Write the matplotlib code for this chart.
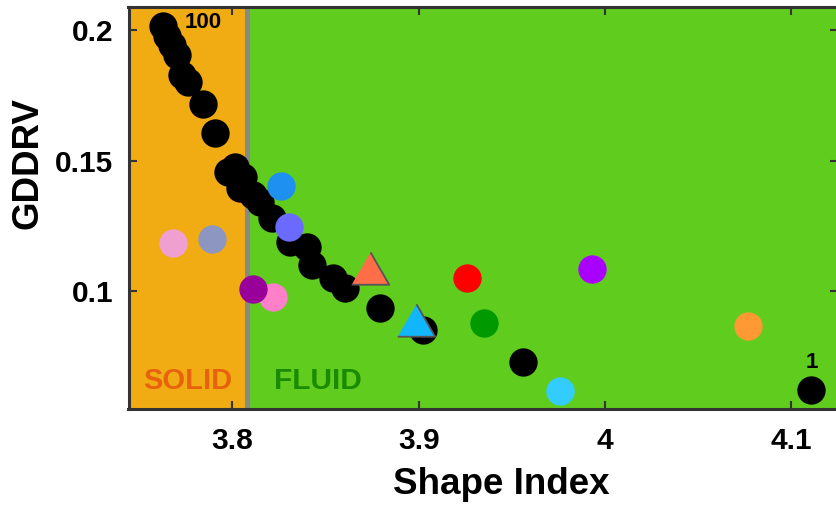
import matplotlib
matplotlib.use("Agg")
import matplotlib.pyplot as plt
from matplotlib.markers import MarkerStyle

plt.rcParams['font.family'] = ['Liberation Sans', 'DejaVu Sans']
plt.rcParams['font.weight'] = 'bold'

# --- data ---
black_x = [3.7628, 3.7650, 3.7676, 3.7703, 3.7730, 3.7762, 3.7843, 3.7907,
           3.7977, 3.8014, 3.8057, 3.8041, 3.8111, 3.8149, 3.8213, 3.8310,
           3.8401, 3.8428, 3.8541, 3.8605, 3.8793, 3.9024, 3.9560, 4.1106]
black_y = [0.2015, 0.1977, 0.1943, 0.1904, 0.1828, 0.1801, 0.1716, 0.1605,
           0.1456, 0.1475, 0.1437, 0.1395, 0.1368, 0.1341, 0.1280, 0.1188,
           0.1169, 0.1100, 0.1050, 0.1011, 0.0935, 0.0851, 0.0728, 0.0621]

circle_x = [3.8261, 3.8301, 3.7683, 3.7889, 3.8215, 3.8110,
            3.9258, 3.9351, 3.9759, 3.9931, 4.0767]
circle_y = [0.1403, 0.1246, 0.1183, 0.1198, 0.0978, 0.1007,
            0.1049, 0.0876, 0.0618, 0.1083, 0.0867]
circle_colors = ['#1E90F0', '#6A6AFF', '#F0A0D0', '#8C96C0', '#FF80C8', '#990099',
                 '#FF0000', '#009900', '#33CCFF', '#AA00FF', '#FF9933']

tri_x = [3.8736, 3.8986]
tri_y = [0.1087, 0.0889]
tri_colors = ['#FF6E46', '#12B6FF']

boundary = 3.808
xmin, xmax = 3.7442, 4.125
ymin, ymax = 0.0548, 0.2087

# --- figure ---
fig = plt.figure(figsize=(8.36, 5.08), dpi=100)
ax = fig.add_axes([128.5 / 836, 99 / 508, (838 - 128.5) / 836, (409 - 7.3) / 508])

ax.axvspan(xmin, boundary, color='#F0AC12', zorder=0, lw=0)
ax.axvspan(boundary, xmax, color='#5FCC1E', zorder=0, lw=0)
ax.axvline(boundary, color='#888888', lw=3.6, zorder=1)

ax.plot(black_x, black_y, 'o', color='black', ms=20.4, mew=0, zorder=2)
for x, y, c in zip(circle_x, circle_y, circle_colors):
    ax.plot(x, y, 'o', color=c, ms=20.4, mew=0, zorder=3)

tri = MarkerStyle([(-1, -0.865), (1, -0.865), (0, 0.865)], joinstyle='round')
for x, y, c in zip(tri_x, tri_y, tri_colors):
    ax.plot(x, y, marker=tri, color=c, ms=27, mec='#555555', mew=1.3, zorder=4)

ax.text(3.7842, 0.2027, '100', fontsize=16, ha='center', va='center', zorder=5)
ax.text(4.111, 0.0728, '1', fontsize=16, ha='center', va='center', zorder=5)
ax.text(3.7758, 0.0655, 'SOLID', fontsize=21, color='#E8620E', ha='center', va='center')
ax.text(3.8459, 0.0655, 'FLUID', fontsize=21.5, color='#1A8A00', ha='center', va='center')

ax.set_xlim(xmin, xmax)
ax.set_ylim(ymin, ymax)
ax.set_xticks([3.8, 3.9, 4.0, 4.1])
ax.set_xticklabels(['3.8', '3.9', '4', '4.1'])
ax.set_yticks([0.1, 0.15, 0.2])
ax.set_yticklabels(['0.1', '0.15', '0.2'])
ax.tick_params(direction='in', length=6, width=1.5, color='#333333',
               labelsize=21.5, top=True, right=True)
ax.tick_params(axis='y', pad=11)
ax.tick_params(axis='x', pad=13)
for s in ax.spines.values():
    s.set_linewidth(2.2)
    s.set_color('#333333')
    s.set_zorder(6)

fig.text(28 / 836, 1 - 163 / 508, 'GDDRV', fontsize=26.5, rotation=90,
         ha='center', va='center')
fig.text(501 / 836, 1 - 484 / 508, 'Shape Index', fontsize=26.5,
         ha='center', va='center')

fig.savefig('out.png', dpi=100)
